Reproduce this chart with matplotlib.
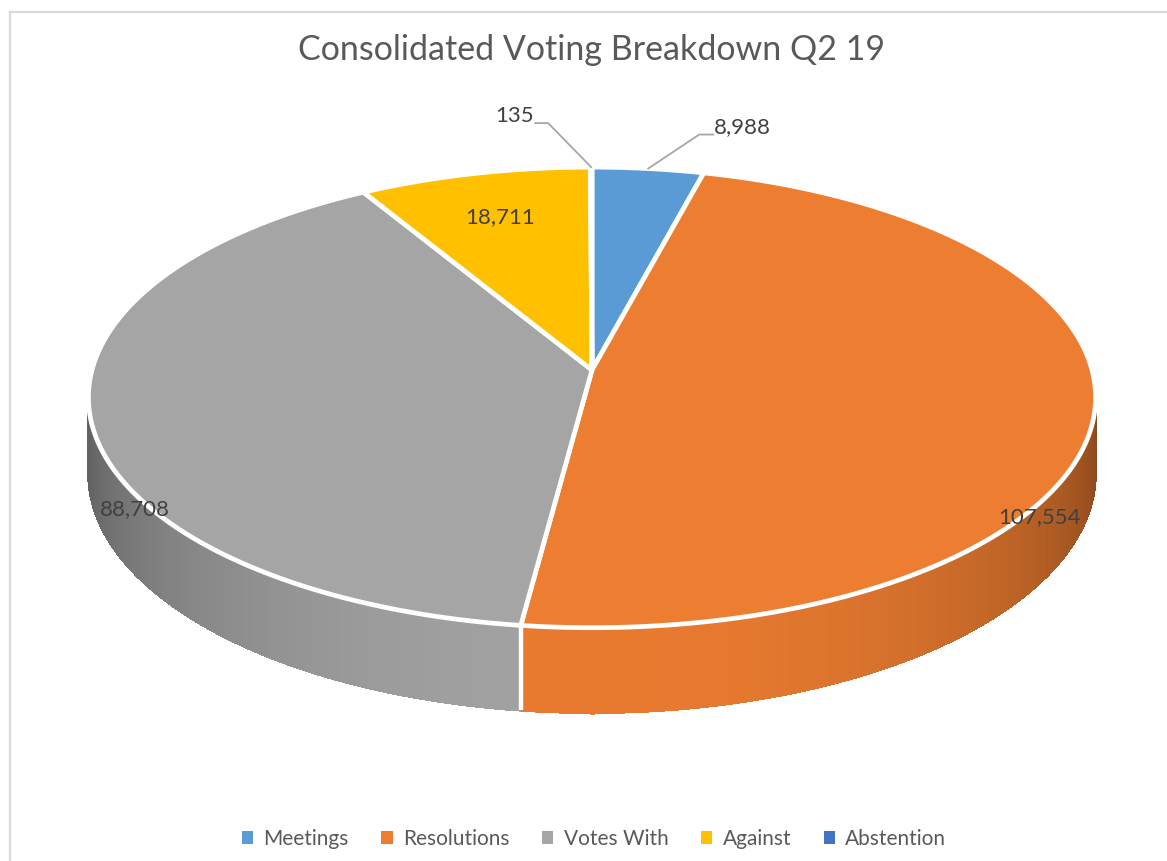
import numpy as np
import matplotlib.pyplot as plt
from matplotlib.patches import Polygon, Patch
from matplotlib.collections import PolyCollection
from matplotlib.colors import to_rgb

# data
categories = ['Meetings', 'Resolutions', 'Votes With', 'Against', 'Abstention']
values = [8988, 107554, 88708, 18711, 135]
value_labels = ['8,988', '107,554', '88,708', '18,711', '135']
colors = ['#5B9BD5', '#ED7D31', '#A5A5A5', '#FFC000', '#4472C4']
title = 'Consolidated Voting Breakdown Q2 19'

plt.rcParams['font.family'] = ['Lato', 'DejaVu Sans']

W, H = 1167, 861
fig = plt.figure(figsize=(W / 100, H / 100), dpi=100)
ax = fig.add_axes([0, 0, 1, 1])
ax.set_xlim(0, W)
ax.set_ylim(H, 0)
ax.axis('off')

# simple perspective view of a flat disk (pixel space)
cx, apex_y = 592, 370
a, c, k = 500, -183, 0.119
depth = 75


def proj(t, r=1.0, drop=0.0):
    u = r * np.sin(t)
    v = r * np.cos(t)
    w = 1 + k * v
    return cx + a * u / w, (apex_y + c * v + drop) / w


frac = np.array(values) / np.sum(values)
edges = np.concatenate([[0], np.cumsum(frac)]) * 2 * np.pi


def slice_of(t):
    return int(np.searchsorted(edges, t, side='right') - 1)


# side wall, drawn as thin strips with shading
t_lo = np.arccos(-k)
t_hi = 2 * np.pi - t_lo
ts = np.linspace(t_lo, t_hi, 400)
polys, fcols = [], []
for t0, t1 in zip(ts[:-1], ts[1:]):
    x0, y0 = proj(t0)
    x1, y1 = proj(t1)
    _, b0 = proj(t0, drop=depth)
    _, b1 = proj(t1, drop=depth)
    polys.append([(x0, y0), (x1, y1), (x1, b1), (x0, b0)])
    s = ((x0 + x1) / 2 - cx) / 505
    shade = 0.56 + 0.42 * np.sqrt(max(0.0, 1 - s * s))
    i = slice_of((t0 + t1) / 2)
    fcols.append(tuple(np.clip(np.array(to_rgb(colors[i])) * shade, 0, 1)))
ax.add_collection(PolyCollection(polys, facecolors=fcols, edgecolors=fcols,
                                 linewidths=1.0, antialiased=False))

for e in edges[1:-1]:
    if t_lo < e < t_hi:
        x0, y0 = proj(e)
        _, y1 = proj(e, drop=depth)
        ax.plot([x0, x0], [y0, y1], color='white', lw=3.2, solid_capstyle='butt')

# top face
for i in range(len(values)):
    tt = np.linspace(edges[i], edges[i + 1], 200)
    xs, ys = proj(tt)
    pts = [(cx, apex_y)] + list(zip(xs, ys))
    ax.add_patch(Polygon(pts, closed=True, facecolor=colors[i],
                         edgecolor='white', lw=3.4, joinstyle='round'))

# data labels
txt = dict(fontsize=16, color='#404040', va='center')
mids = (edges[:-1] + edges[1:]) / 2

x, y = proj(mids[0])
ax.plot([x, x + 51, x + 65], [y, y - 34, y - 34], color='#A6A6A6', lw=1.3)
ax.text(x + 66, y - 41, value_labels[0], ha='left', **txt)

x, y = proj(mids[4])
ax.plot([x, x - 43, x - 56], [y, y - 44, y - 44], color='#A6A6A6', lw=1.3)
ax.text(x - 57, y - 51, value_labels[4], ha='right', **txt)

x, y = proj(mids[1])
ax.text(x - 55, y + 103, value_labels[1], ha='center', **txt)

x, y = proj(mids[2])
ax.text(x + 45, y + 93, value_labels[2], ha='center', **txt)

x, y = proj(mids[3], r=0.76)
ax.text(x, y, value_labels[3], ha='center', **txt)

# title
ax.text(592, 50, title, ha='center', va='center', fontsize=24.5, color='#595959')

# chart border (left / top visible)
ax.plot([10, 10], [H, 12], color='#D9D9D9', lw=1.6)
ax.plot([10, W], [12, 12], color='#D9D9D9', lw=1.6)

handles = [Patch(facecolor=col, edgecolor='none') for col in colors]
ax.legend(handles, categories, loc='center', bbox_to_anchor=(594 / W, 1 - 839 / H),
          ncol=5, frameon=False, fontsize=15, handlelength=0.55, handleheight=0.55,
          handletextpad=0.5, columnspacing=1.55, labelcolor='#595959')

fig.savefig('out.png', dpi=100)
